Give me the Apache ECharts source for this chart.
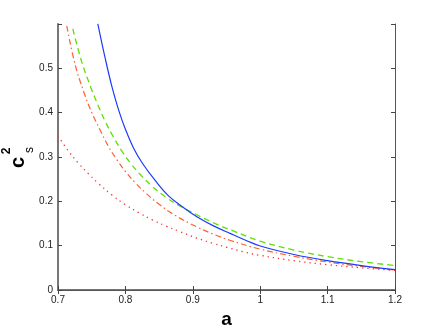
<!DOCTYPE html>
<html lang="en">
<head>
    <meta charset="UTF-8">
    <title>c_s^2 vs a</title>
    <script src="https://cdn.jsdelivr.net/npm/echarts@6/dist/echarts.min.js"></script>
    <style>
        html, body { margin: 0; padding: 0; background: #fff; }
        #main { width: 436px; height: 328px; }
    </style>
</head>
<body>
<div id="main"></div>

<script type="text/javascript">

    // 读图得到的数据 (a, c_s^2)
    var blueA  = [0.759, 0.770, 0.780, 0.790, 0.800, 0.812, 0.825, 0.845, 0.864, 0.885, 0.906, 0.930, 0.956, 0.980, 1.000, 1.050, 1.100, 1.150, 1.200];
    var blueC  = [0.600, 0.522, 0.458, 0.405, 0.362, 0.320, 0.286, 0.245, 0.212, 0.187, 0.165, 0.145, 0.127, 0.111, 0.099, 0.080, 0.066, 0.055, 0.046];

    var greenA = [0.722, 0.735, 0.749, 0.760, 0.770, 0.782, 0.795, 0.808, 0.822, 0.840, 0.859, 0.880, 0.905, 0.931, 0.960, 1.000, 1.050, 1.100, 1.150, 1.200];
    var greenC = [0.588, 0.515, 0.455, 0.414, 0.380, 0.345, 0.312, 0.285, 0.260, 0.233, 0.210, 0.190, 0.170, 0.151, 0.133, 0.110, 0.090, 0.075, 0.064, 0.055];

    var orangeA = [0.713, 0.725, 0.738, 0.750, 0.762, 0.775, 0.788, 0.800, 0.815, 0.829, 0.849, 0.875, 0.906, 0.930, 0.955, 1.000, 1.050, 1.100, 1.150, 1.200];
    var orangeC = [0.595, 0.510, 0.447, 0.400, 0.362, 0.323, 0.292, 0.267, 0.241, 0.220, 0.194, 0.167, 0.142, 0.126, 0.112, 0.092, 0.076, 0.063, 0.053, 0.045];

    var redA = [0.700, 0.715, 0.730, 0.745, 0.760, 0.780, 0.800, 0.820, 0.840, 0.860, 0.880, 0.906, 0.930, 0.951, 0.975, 1.000, 1.050, 1.100, 1.150, 1.200];
    var redC = [0.347, 0.314, 0.286, 0.262, 0.240, 0.214, 0.192, 0.174, 0.158, 0.144, 0.132, 0.117, 0.105, 0.096, 0.086, 0.078, 0.066, 0.057, 0.050, 0.044];

    var xTicks = [0.7, 0.8, 0.9, 1, 1.1, 1.2];
    var yTicks = [0, 0.1, 0.2, 0.3, 0.4, 0.5];

    function pairs(xs, ys) {
        var out = [];
        for (var i = 0; i < xs.length; i++) {
            out.push([xs[i], ys[i]]);
        }
        return out;
    }

    var myChart = echarts.init(document.getElementById('main'), null, {renderer: 'canvas'});

    var fontFamily = '"Liberation Sans", Arial, Helvetica, sans-serif';

    var tickStyle = {show: true, inside: true, length: 4, lineStyle: {color: '#444', width: 1}};

    var option = {
        animation: false,
        backgroundColor: '#fff',
        textStyle: {fontFamily: fontFamily},
        grid: {left: 58, right: 41, top: 24, bottom: 38, outerBoundsMode: 'none', containLabel: false},
        xAxis: [
            {
                type: 'value',
                min: xTicks[0],
                max: xTicks[xTicks.length - 1],
                interval: 0.1,
                name: 'a',
                nameLocation: 'middle',
                nameGap: 14,
                nameTextStyle: {fontSize: 19, fontWeight: 'bold', color: '#000', fontFamily: fontFamily},
                axisLine: {lineStyle: {color: '#777', width: 2}},
                axisTick: tickStyle,
                axisLabel: {color: '#222', fontSize: 10, margin: 5, fontFamily: fontFamily},
                splitLine: {show: false}
            },
            {
                type: 'value',
                position: 'top',
                min: xTicks[0],
                max: xTicks[xTicks.length - 1],
                interval: 0.1,
                axisLine: {lineStyle: {color: '#555', width: 1}},
                axisTick: tickStyle,
                axisLabel: {show: false},
                splitLine: {show: false}
            }
        ],
        yAxis: [
            {
                type: 'value',
                min: yTicks[0],
                max: 0.599,
                interval: 0.1,
                axisLine: {lineStyle: {color: '#777', width: 2}},
                axisTick: tickStyle,
                axisLabel: {
                    color: '#222', fontSize: 10, margin: 5, fontFamily: fontFamily,
                    formatter: function (v) { return v > 0.55 ? '' : String(+v.toFixed(1)); }
                },
                splitLine: {show: false}
            },
            {
                type: 'value',
                position: 'right',
                min: yTicks[0],
                max: 0.599,
                interval: 0.1,
                axisLine: {lineStyle: {color: '#555', width: 1}},
                axisTick: tickStyle,
                axisLabel: {show: false},
                splitLine: {show: false}
            }
        ],
        // y 轴标题 c_s^2 (旋转)
        graphic: [
            {type: 'text', x: 18.5, y: 162.5, rotation: Math.PI / 2,
                style: {text: 'c', fontSize: 20, fontWeight: 'bold', fill: '#000', fontFamily: fontFamily, align: 'center', verticalAlign: 'middle'}},
            {type: 'text', x: 7, y: 151, rotation: Math.PI / 2,
                style: {text: '2', fontSize: 12, fontWeight: 'bold', fill: '#000', fontFamily: fontFamily, align: 'center', verticalAlign: 'middle'}},
            {type: 'text', x: 29.5, y: 150, rotation: Math.PI / 2,
                style: {text: 's', fontSize: 12, fill: '#000', fontFamily: fontFamily, align: 'center', verticalAlign: 'middle'}}
        ],
        series: [
            {
                name: 'dotted',
                type: 'line',
                smooth: 0.4,
                showSymbol: false,
                clip: true,
                lineStyle: {color: '#ff3030', width: 1.3, type: [1.3, 4]},
                data: pairs(redA, redC)
            },
            {
                name: 'dashdot',
                type: 'line',
                smooth: 0.4,
                showSymbol: false,
                clip: true,
                lineStyle: {color: '#ff6030', width: 1.2, type: [6, 3, 1.5, 3]},
                data: pairs(orangeA, orangeC)
            },
            {
                name: 'dashed',
                type: 'line',
                smooth: 0.4,
                showSymbol: false,
                clip: true,
                lineStyle: {color: '#60e000', width: 1.3, type: [6, 4]},
                data: pairs(greenA, greenC)
            },
            {
                name: 'solid',
                type: 'line',
                smooth: 0.4,
                showSymbol: false,
                clip: true,
                lineStyle: {color: '#1a3cff', width: 1.2, type: 'solid'},
                data: pairs(blueA, blueC)
            }
        ]
    };

    myChart.setOption(option);

</script>
</body>
</html>
